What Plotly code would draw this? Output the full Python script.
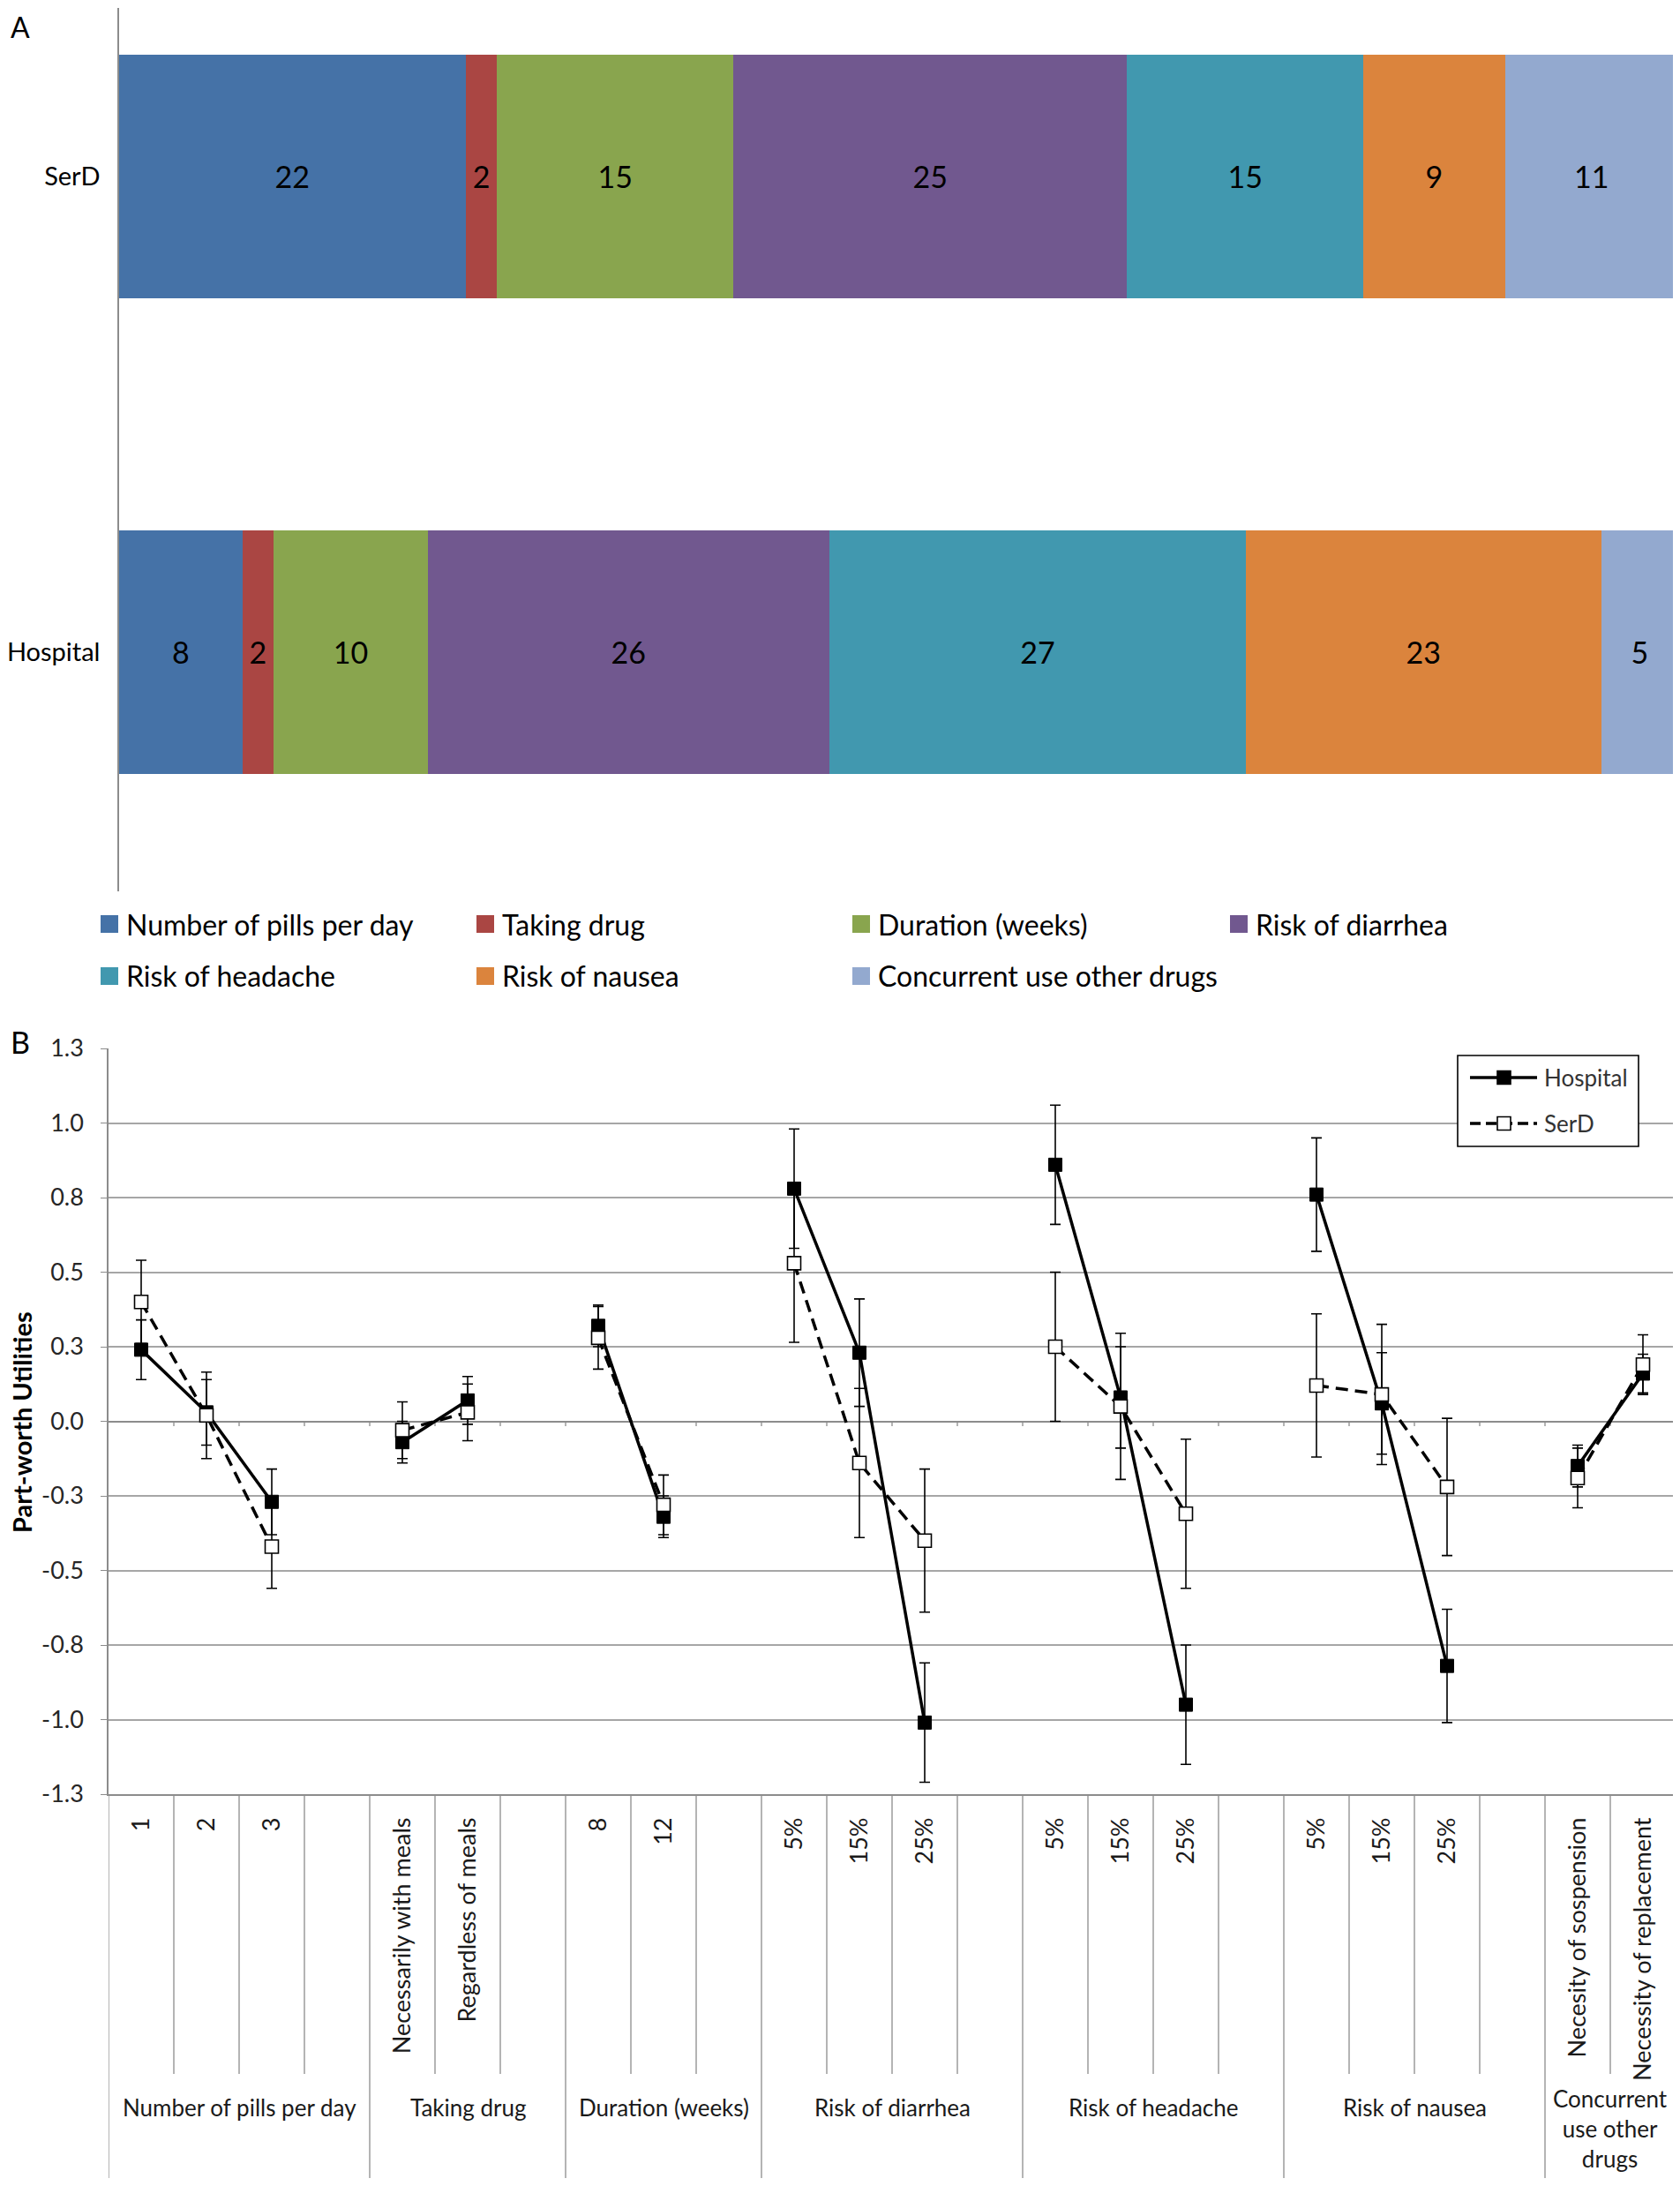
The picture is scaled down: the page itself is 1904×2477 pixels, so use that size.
import textwrap
import plotly.graph_objects as go

# Target frame (reference image) is 1904 x 2477; the figure is sized so the page
# (with the browser's default 8px body margin) fits that frame without rescaling.
OX, OY = 8, 8
FIG_W, FIG_H = 1888, 2460

# ---------------- Panel A data ----------------
bar_groups = ["Hospital", "SerD"]
attributes = ["Number of pills per day", "Taking drug", "Duration (weeks)", "Risk of diarrhea",
              "Risk of headache", "Risk of nausea", "Concurrent use other drugs"]
importance_hospital = [8, 2, 10, 26, 27, 23, 5]
importance_serd = [22, 2, 15, 25, 15, 9, 11]
attr_colors = ["#4572A7", "#AA4643", "#89A54E", "#71588F", "#4198AF", "#DB843D", "#93A9CF"]

# ---------------- Panel B data ----------------
level_labels = [
    ["1", "2", "3"],
    ["Necessarily with meals", "Regardless of meals"],
    ["8", "12"],
    ["5%", "15%", "25%"],
    ["5%", "15%", "25%"],
    ["5%", "15%", "25%"],
    ["Necesity of sospension", "Necessity of replacement"],
]
series_names = ["Hospital", "SerD"]
hospital_util = [[0.24, 0.03, -0.27], [-0.07, 0.07], [0.32, -0.32], [0.78, 0.23, -1.01],
                 [0.86, 0.08, -0.95], [0.76, 0.06, -0.82], [-0.15, 0.16]]
hospital_err = [[0.10, 0.11, 0.11], [0.07, 0.08], [0.07, 0.07], [0.20, 0.18, 0.20],
                [0.20, 0.17, 0.20], [0.19, 0.17, 0.19], [0.07, 0.065]]
serd_util = [[0.40, 0.02, -0.42], [-0.03, 0.03], [0.28, -0.28], [0.53, -0.14, -0.40],
             [0.25, 0.05, -0.31], [0.12, 0.09, -0.22], [-0.19, 0.19]]
serd_err = [[0.14, 0.145, 0.14], [0.095, 0.095], [0.105, 0.10], [0.265, 0.25, 0.24],
            [0.25, 0.245, 0.25], [0.24, 0.235, 0.23], [0.10, 0.10]]
y_tickvals = [1.25, 1.0, 0.75, 0.5, 0.25, 0.0, -0.25, -0.5, -0.75, -1.0, -1.25]
y_ticktext = ["1.3", "1.0", "0.8", "0.5", "0.3", "0.0", "-0.3", "-0.5", "-0.8", "-1.0", "-1.3"]

FONT = "Lato, 'Open Sans', sans-serif"
GRID = "#a6a6a6"
AXIS = "#8c8c8c"


def px(x):
    return (x - OX) / FIG_W


def py(y):
    return 1 - (y - OY) / FIG_H


RIGHT = OX + FIG_W  # right edge of drawable area in target pixels
BOTTOM = OY + FIG_H

fig = go.Figure()

# ---------------- Panel A: 100% stacked horizontal bars ----------------
A_LEFT, A_RIGHT_FULL = 135, 1902
A_TOP, A_BOT = 9, 1010
SERD_C, HOSP_C = 199.5, 738.5
ppu = HOSP_C - SERD_C
a_range = [0 - (A_BOT - HOSP_C) / ppu, 1 + (SERD_C - A_TOP) / ppu]
a_xmax = 100 * (min(RIGHT, A_RIGHT_FULL) - A_LEFT) / (A_RIGHT_FULL - A_LEFT)

for i, name in enumerate(attributes):
    vals = [importance_hospital[i], importance_serd[i]]
    fig.add_trace(go.Bar(
        y=bar_groups, x=vals, orientation="h", name=name,
        marker=dict(color=attr_colors[i], line=dict(width=0)),
        width=276 / ppu,
        text=[str(v) for v in vals], textposition="inside", insidetextanchor="middle",
        textangle=0, constraintext="none",
        textfont=dict(family=FONT, size=34, color="black"),
        xaxis="x", yaxis="y", showlegend=False, hoverinfo="x+y+name",
    ))

# manual legend for panel A
col_x = [114, 540, 966, 1394]
row_y = [1047, 1106]
shapes = []
annotations = []
for i, name in enumerate(attributes):
    c, r = i % 4, i // 4
    x0, yc = col_x[c], row_y[r]
    shapes.append(dict(type="rect", xref="paper", yref="paper",
                       x0=px(x0), x1=px(x0 + 20), y0=py(yc - 10), y1=py(yc + 10),
                       fillcolor=attr_colors[i], line=dict(width=0)))
    annotations.append(dict(xref="paper", yref="paper", x=px(x0 + 27), y=py(yc),
                            xanchor="left", yanchor="middle", showarrow=False, text=name,
                            font=dict(family=FONT, size=32, color="black")))

# ---------------- Panel B: part-worth utilities ----------------
xs, hy, he, sy, se = [], [], [], [], []
tickvals, ticktext = [], []
group_spans = []
slot = 0
for gi, labs in enumerate(level_labels):
    start = slot
    for li, lab in enumerate(labs):
        xs.append(slot)
        hy.append(hospital_util[gi][li]); he.append(hospital_err[gi][li])
        sy.append(serd_util[gi][li]); se.append(serd_err[gi][li])
        tickvals.append(slot); ticktext.append(lab)
        slot += 1
    if gi < len(level_labels) - 1:
        xs.append(slot); hy.append(None); he.append(0); sy.append(None); se.append(0)
        slot += 1
    group_spans.append((start, slot))
n_slots = slot

fig.add_trace(go.Scatter(
    x=xs, y=hy, name=series_names[0], mode="lines+markers", connectgaps=False,
    line=dict(color="black", width=3.5),
    marker=dict(symbol="square", size=15, color="black", line=dict(color="black", width=1)),
    error_y=dict(type="data", array=he, visible=True, color="black", thickness=1.6, width=6),
    xaxis="x2", yaxis="y2", showlegend=False,
))
fig.add_trace(go.Scatter(
    x=xs, y=sy, name=series_names[1], mode="lines+markers", connectgaps=False,
    line=dict(color="black", width=3.5, dash="14px,8px"),
    marker=dict(symbol="square", size=15, color="white", line=dict(color="black", width=1.6)),
    error_y=dict(type="data", array=se, visible=True, color="black", thickness=1.6, width=6),
    xaxis="x2", yaxis="y2", showlegend=False,
))

B_LEFT, B_SLOT = 123, 74
B_TOP, B_BOT, B_INNER_END = 1188, 2033, 2350
b_right = min(RIGHT, B_LEFT + n_slots * B_SLOT)
b_xrange = [-0.5, -0.5 + (b_right - B_LEFT) / B_SLOT]

group_bounds = {0}
for s, e in group_spans:
    group_bounds.add(e)
for b in range(0, n_slots + 1):
    if B_LEFT + b * B_SLOT > RIGHT:
        continue
    y_end = py(BOTTOM) if b in group_bounds else py(B_INNER_END)
    shapes.append(dict(type="line", xref="x2", yref="paper", x0=b - 0.5, x1=b - 0.5,
                       y0=py(B_BOT), y1=y_end, line=dict(color=AXIS, width=1.3), layer="below"))
    if b >= 1:
        shapes.append(dict(type="line", xref="x2", yref="y2", x0=b - 0.5, x1=b - 0.5,
                           y0=0, y1=-0.016, line=dict(color=AXIS, width=1.3), layer="below"))

# group labels (narrow groups wrap onto several lines, kept above the bottom edge)
for (s, e), gname, labs in zip(group_spans, attributes, level_labels):
    if e - s <= 2:
        txt = "<br>".join(textwrap.wrap(gname, 11))
        ann_y, ann_anchor = py(BOTTOM - 4), "bottom"
    else:
        txt = gname
        ann_y, ann_anchor = py(2370), "top"
    annotations.append(dict(xref="x2", yref="paper", x=(s + e - 1) / 2.0, y=ann_y,
                            xanchor="center", yanchor=ann_anchor, showarrow=False, text=txt,
                            align="center", font=dict(family=FONT, size=26, color="#1a1a1a")))

# manual legend for panel B
shapes.append(dict(type="rect", xref="paper", yref="paper", x0=px(1652), x1=px(1857),
                   y0=py(1196), y1=py(1299), fillcolor="white",
                   line=dict(color="black", width=1.6)))
for k, (name, yc) in enumerate(zip(series_names, [1221, 1273])):
    shapes.append(dict(type="line", xref="paper", yref="paper", x0=px(1666), x1=px(1742),
                       y0=py(yc), y1=py(yc),
                       line=dict(color="black", width=3.5, dash="solid" if k == 0 else "12px,6px")))
    shapes.append(dict(type="rect", xref="paper", yref="paper", x0=px(1697), x1=px(1712),
                       y0=py(yc - 7.5), y1=py(yc + 7.5),
                       fillcolor="black" if k == 0 else "white",
                       line=dict(color="black", width=1.6)))
    annotations.append(dict(xref="paper", yref="paper", x=px(1748), y=py(yc), xanchor="left",
                            yanchor="middle", showarrow=False, text=name,
                            font=dict(family=FONT, size=26, color="#333333")))

# panel letters and y title
annotations.append(dict(xref="paper", yref="paper", x=px(10), y=py(OY + 1), xanchor="left",
                        yanchor="top", showarrow=False, text="A",
                        font=dict(family=FONT, size=32, color="black")))
annotations.append(dict(xref="paper", yref="paper", x=px(10), y=py(1180), xanchor="left",
                        yanchor="middle", showarrow=False, text="B",
                        font=dict(family=FONT, size=34, color="black")))
annotations.append(dict(xref="paper", yref="paper", x=px(25), y=py(1612), xanchor="center",
                        yanchor="middle", showarrow=False, text="<b>Part-worth Utilities</b>",
                        textangle=-90, font=dict(family=FONT, size=29, color="black")))

fig.update_layout(
    width=FIG_W, height=FIG_H, margin=dict(l=0, r=0, t=0, b=0, autoexpand=False),
    paper_bgcolor="white", plot_bgcolor="white",
    barmode="stack", barnorm="percent", showlegend=False,
    font=dict(family=FONT, color="black"),
    xaxis=dict(domain=[px(A_LEFT), 1.0], range=[0, a_xmax], visible=False, anchor="y",
               fixedrange=True, automargin=False),
    yaxis=dict(domain=[py(A_BOT), py(A_TOP)], type="category", categoryorder="array",
               categoryarray=bar_groups, range=a_range, anchor="x",
               showline=True, linecolor=AXIS, linewidth=1.5, ticks="", showgrid=False,
               zeroline=False, ticklabelstandoff=14, automargin=False,
               tickfont=dict(family=FONT, size=29, color="black")),
    xaxis2=dict(domain=[px(B_LEFT), px(b_right)], range=b_xrange, anchor="y2",
                tickmode="array", tickvals=tickvals, ticktext=ticktext, tickangle=-90,
                ticks="", showline=True, linecolor=AXIS, linewidth=1.5, showgrid=False,
                zeroline=False, ticklabelstandoff=14, automargin=False,
                tickfont=dict(family=FONT, size=27, color="#1a1a1a")),
    yaxis2=dict(domain=[py(B_BOT), py(B_TOP)], range=[-1.25, 1.25], anchor="x2",
                tickmode="array", tickvals=y_tickvals, ticktext=y_ticktext,
                ticks="outside", ticklen=7, tickcolor=AXIS, tickwidth=1.3,
                showgrid=True, gridcolor=GRID, gridwidth=1.5,
                zeroline=True, zerolinecolor=AXIS, zerolinewidth=1.5,
                showline=True, linecolor=AXIS, linewidth=1.5, ticklabelstandoff=14,
                automargin=False,
                tickfont=dict(family=FONT, size=27, color="#262626")),
    shapes=shapes, annotations=annotations,
)

fig.write_html("out.html")
